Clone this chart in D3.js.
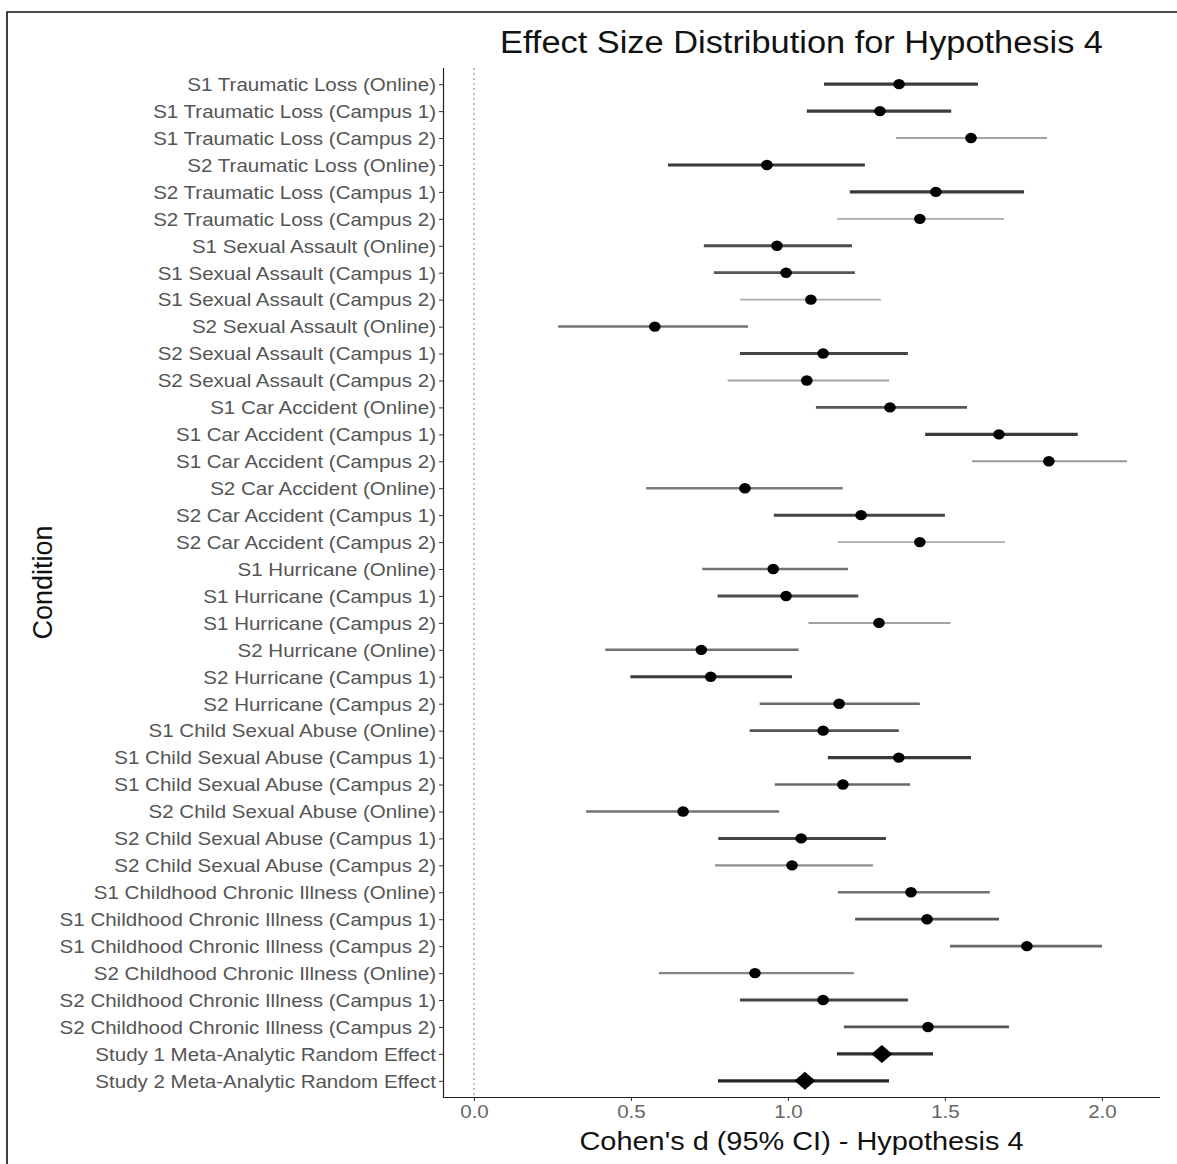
<!DOCTYPE html>
<html>
<head>
<meta charset="utf-8">
<script src="https://cdn.jsdelivr.net/npm/d3@7"></script>
<style>
  body { margin: 0; background: #fff; }
  text { font-family: "Liberation Sans", Arial, sans-serif; }
</style>
</head>
<body>
<div id="chart"></div>
<script>
// rows, top to bottom
const conditions = [
  "S1 Traumatic Loss (Online)", "S1 Traumatic Loss (Campus 1)", "S1 Traumatic Loss (Campus 2)",
  "S2 Traumatic Loss (Online)", "S2 Traumatic Loss (Campus 1)", "S2 Traumatic Loss (Campus 2)",
  "S1 Sexual Assault (Online)", "S1 Sexual Assault (Campus 1)", "S1 Sexual Assault (Campus 2)",
  "S2 Sexual Assault (Online)", "S2 Sexual Assault (Campus 1)", "S2 Sexual Assault (Campus 2)",
  "S1 Car Accident (Online)", "S1 Car Accident (Campus 1)", "S1 Car Accident (Campus 2)",
  "S2 Car Accident (Online)", "S2 Car Accident (Campus 1)", "S2 Car Accident (Campus 2)",
  "S1 Hurricane (Online)", "S1 Hurricane (Campus 1)", "S1 Hurricane (Campus 2)",
  "S2 Hurricane (Online)", "S2 Hurricane (Campus 1)", "S2 Hurricane (Campus 2)",
  "S1 Child Sexual Abuse (Online)", "S1 Child Sexual Abuse (Campus 1)", "S1 Child Sexual Abuse (Campus 2)",
  "S2 Child Sexual Abuse (Online)", "S2 Child Sexual Abuse (Campus 1)", "S2 Child Sexual Abuse (Campus 2)",
  "S1 Childhood Chronic Illness (Online)", "S1 Childhood Chronic Illness (Campus 1)", "S1 Childhood Chronic Illness (Campus 2)",
  "S2 Childhood Chronic Illness (Online)", "S2 Childhood Chronic Illness (Campus 1)", "S2 Childhood Chronic Illness (Campus 2)",
  "Study 1 Meta-Analytic Random Effect", "Study 2 Meta-Analytic Random Effect"
];
const estimate = [1.354, 1.293, 1.583, 0.933, 1.471, 1.420, 0.965, 0.994, 1.073, 0.576, 1.112, 1.060,
  1.325, 1.672, 1.831, 0.863, 1.233, 1.420, 0.953, 0.994, 1.290, 0.724, 0.754, 1.163,
  1.112, 1.353, 1.175, 0.666, 1.042, 1.013, 1.392, 1.443, 1.761, 0.895, 1.112, 1.446,
  1.299, 1.054];
const lower = [1.115, 1.060, 1.344, 0.618, 1.197, 1.156, 0.732, 0.764, 0.847, 0.268, 0.847, 0.808,
  1.089, 1.437, 1.586, 0.548, 0.955, 1.159, 0.727, 0.776, 1.065, 0.418, 0.498, 0.910,
  0.878, 1.127, 0.958, 0.357, 0.778, 0.768, 1.159, 1.214, 1.516, 0.589, 0.847, 1.178,
  1.156, 0.777];
const upper = [1.605, 1.520, 1.825, 1.245, 1.752, 1.688, 1.204, 1.213, 1.296, 0.873, 1.382, 1.322,
  1.570, 1.923, 2.080, 1.175, 1.500, 1.691, 1.191, 1.224, 1.518, 1.034, 1.013, 1.420,
  1.353, 1.583, 1.389, 0.972, 1.312, 1.271, 1.643, 1.672, 2.000, 1.210, 1.382, 1.704,
  1.462, 1.322];
// relative study weight (drives line shade / thickness)
const weight = [0.85, 0.85, 0.3, 0.85, 0.85, 0.25, 0.75, 0.7, 0.25, 0.55, 0.8, 0.3,
  0.7, 0.85, 0.35, 0.5, 0.8, 0.25, 0.55, 0.75, 0.3, 0.55, 0.85, 0.6,
  0.7, 0.85, 0.6, 0.55, 0.8, 0.4, 0.55, 0.7, 0.6, 0.45, 0.8, 0.7,
  0.9, 0.95];
const metaRows = ["Study 1 Meta-Analytic Random Effect", "Study 2 Meta-Analytic Random Effect"];
const xTicks = [0, 0.5, 1.0, 1.5, 2.0];

const rows = conditions.map((c, i) => ({
  name: c, est: estimate[i], lo: lower[i], hi: upper[i], w: weight[i], meta: metaRows.includes(c)
}));

const width = 1177, height = 1164;
const panel = { left: 443, right: 1160, top: 68, bottom: 1097 };
const sx = 1.11; // horizontal text stretch

const svg = d3.select("#chart").append("svg")
  .attr("width", width).attr("height", height);

// outer frame
svg.append("path")
  .attr("d", `M7,${height} L7,12 L${width},12`)
  .attr("fill", "none").attr("stroke", "#111").attr("stroke-width", 1.6);

const x = d3.scaleLinear().domain([-0.0987, 2.185]).range([panel.left, panel.right]);
const y = d3.scalePoint().domain(conditions).range([panel.top, panel.bottom]).padding(0.6);
const shade = d3.scaleLinear().domain([0, 1]).range(["#dadada", "#1e1e1e"]);
const thick = d3.scaleLinear().domain([0, 1]).range([1.4, 3.4]);

// zero reference line
svg.append("line")
  .attr("x1", x(0)).attr("x2", x(0))
  .attr("y1", panel.top).attr("y2", panel.bottom)
  .attr("stroke", "#888").attr("stroke-width", 1)
  .attr("stroke-dasharray", "2,3");

// confidence intervals
svg.selectAll("line.ci")
  .data(rows)
  .join("line")
  .attr("class", "ci")
  .attr("x1", d => x(d.lo)).attr("x2", d => x(d.hi))
  .attr("y1", d => y(d.name)).attr("y2", d => y(d.name))
  .attr("stroke", d => shade(d.w))
  .attr("stroke-width", d => thick(d.w));

// point estimates
svg.selectAll("ellipse.pt")
  .data(rows.filter(d => !d.meta))
  .join("ellipse")
  .attr("class", "pt")
  .attr("cx", d => x(d.est)).attr("cy", d => y(d.name))
  .attr("rx", 5.8).attr("ry", 5.2)
  .attr("fill", "#000");

svg.selectAll("path.meta")
  .data(rows.filter(d => d.meta))
  .join("path")
  .attr("class", "meta")
  .attr("d", d => {
    const cx = x(d.est), cy = y(d.name), hw = 10.5, hh = 9;
    return `M${cx - hw},${cy} L${cx},${cy - hh} L${cx + hw},${cy} L${cx},${cy + hh} Z`;
  })
  .attr("fill", "#000");

// axes
const yAxis = svg.append("g")
  .attr("transform", `translate(${panel.left},0)`)
  .call(d3.axisLeft(y).tickSize(4).tickPadding(3));
yAxis.select(".domain").attr("stroke", "#222").attr("stroke-width", 1.2)
  .attr("d", `M0.5,${panel.top}V${panel.bottom}`);
yAxis.selectAll(".tick line").attr("stroke", "#333");
yAxis.selectAll(".tick text")
  .attr("x", null).attr("dy", "0.34em")
  .attr("transform", `translate(-7,0) scale(${sx},1)`)
  .attr("fill", "#555").style("font-size", "18.5px");

const xAxis = svg.append("g")
  .attr("transform", `translate(0,${panel.bottom})`)
  .call(d3.axisBottom(x).tickValues(xTicks).tickFormat(d3.format(".1f")).tickSize(4).tickPadding(4));
xAxis.select(".domain").attr("stroke", "#222").attr("stroke-width", 1.2)
  .attr("d", `M${panel.left},0.5H${panel.right}`);
xAxis.selectAll(".tick line").attr("stroke", "#333");
xAxis.selectAll(".tick text")
  .attr("fill", "#666").style("font-size", "18.5px")
  .attr("transform", `scale(${sx},1)`)
  .attr("x", 0);

// titles
const midX = (panel.left + panel.right) / 2;
svg.append("text")
  .attr("x", midX).attr("y", 53)
  .attr("text-anchor", "middle")
  .attr("textLength", 603).attr("lengthAdjust", "spacingAndGlyphs")
  .style("font-size", "31px").attr("fill", "#111")
  .text("Effect Size Distribution for Hypothesis 4");

svg.append("text")
  .attr("x", midX).attr("y", 1150)
  .attr("text-anchor", "middle")
  .attr("textLength", 444).attr("lengthAdjust", "spacingAndGlyphs")
  .style("font-size", "26px").attr("fill", "#111")
  .text("Cohen's d (95% CI) - Hypothesis 4");

svg.append("text")
  .attr("transform", `translate(52,${(panel.top + panel.bottom) / 2}) rotate(-90)`)
  .attr("text-anchor", "middle")
  .style("font-size", "27px").attr("fill", "#111")
  .text("Condition");
</script>
</body>
</html>
